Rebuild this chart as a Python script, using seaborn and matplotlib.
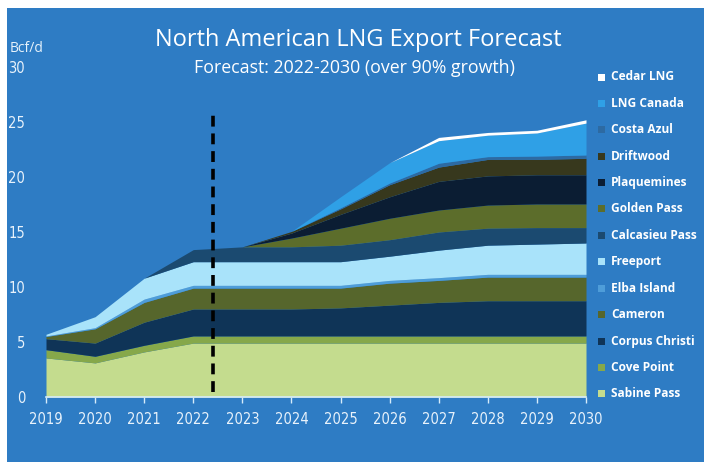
import matplotlib
matplotlib.use("Agg")
import matplotlib.pyplot as plt
from matplotlib.patches import Rectangle
import seaborn as sns
import numpy as np

years = [2019, 2020, 2021, 2022, 2023, 2024, 2025, 2026, 2027, 2028, 2029, 2030]

sabine_pass    = [3.55, 3.1, 4.1, 4.9, 4.9, 4.9, 4.9, 4.9, 4.9, 4.9, 4.9, 4.9]
cove_point     = [0.75, 0.6, 0.6, 0.65, 0.65, 0.65, 0.65, 0.65, 0.65, 0.65, 0.65, 0.65]
corpus_christi = [1.0, 1.2, 2.1, 2.45, 2.45, 2.45, 2.55, 2.8, 3.05, 3.2, 3.2, 3.2]
cameron        = [0.2, 1.3, 1.8, 1.9, 1.9, 1.9, 1.8, 2.0, 2.0, 2.15, 2.15, 2.15]
elba_island    = [0.05, 0.1, 0.3, 0.25, 0.25, 0.25, 0.25, 0.25, 0.25, 0.25, 0.25, 0.25]
freeport       = [0.15, 1.0, 1.9, 2.15, 2.15, 2.15, 2.15, 2.2, 2.5, 2.65, 2.75, 2.85]
calcasieu_pass = [0, 0, 0, 1.1, 1.35, 1.35, 1.5, 1.5, 1.65, 1.55, 1.5, 1.4]
golden_pass    = [0, 0, 0, 0, 0, 0.8, 1.55, 1.95, 2.0, 2.1, 2.15, 2.15]
plaquemines    = [0, 0, 0, 0, 0, 0.45, 1.25, 1.95, 2.6, 2.65, 2.65, 2.65]
driftwood      = [0, 0, 0, 0, 0, 0.15, 0.5, 1.1, 1.3, 1.5, 1.4, 1.5]
costa_azul     = [0, 0, 0, 0, 0, 0, 0.1, 0.15, 0.35, 0.25, 0.3, 0.3]
lng_canada     = [0, 0, 0, 0, 0, 0, 1.0, 1.85, 2.05, 1.95, 2.1, 2.9]
cedar_lng      = [0, 0, 0, 0, 0, 0, 0, 0, 0.3, 0.25, 0.25, 0.3]

series_names = ["Sabine Pass", "Cove Point", "Corpus Christi", "Cameron", "Elba Island",
                "Freeport", "Calcasieu Pass", "Golden Pass", "Plaquemines", "Driftwood",
                "Costa Azul", "LNG Canada", "Cedar LNG"]
series_values = [sabine_pass, cove_point, corpus_christi, cameron, elba_island, freeport,
                 calcasieu_pass, golden_pass, plaquemines, driftwood, costa_azul,
                 lng_canada, cedar_lng]

y_ticks = [0, 5, 10, 15, 20, 25, 30]
forecast_start = 2022.4

title = "North American LNG Export Forecast"
subtitle = "Forecast: 2022-2030 (over 90% growth)"
y_unit = "Bcf/d"

BG = "#2E7CC4"
palette = sns.color_palette(["#C4DC8E", "#86A84A", "#0F3457", "#56662C", "#4E9DD9",
                             "#A9E3FA", "#1B4A70", "#5C6D2B", "#0B1D33", "#37381D",
                             "#2D6AA2", "#2FA0E6", "#FFFFFF"])

sns.set_theme(style="white")
plt.rcParams["font.family"] = ["Open Sans", "DejaVu Sans"]

W, H = 704, 462
fig = plt.figure(figsize=(W / 100, H / 100), dpi=100, facecolor=BG)
# white strips along the top and left edges
fig.patches.append(Rectangle((0, 1 - 8 / H), 1, 8 / H, transform=fig.transFigure,
                             facecolor="white", edgecolor="none", zorder=-5))
fig.patches.append(Rectangle((0, 0), 7 / W, 1, transform=fig.transFigure,
                             facecolor="white", edgecolor="none", zorder=-5))

ax = fig.add_axes([46 / W, (H - 397) / H, 540 / W, 330 / H])
ax.set_facecolor("none")

ax.stackplot(years, *series_values, colors=palette, linewidth=0, zorder=2)

ax.plot([forecast_start, forecast_start], [0.5, 25.9], color="black", lw=2.6,
        dashes=(3.0, 1.9), zorder=5)

ax.set_xlim(years[0], years[-1])
ax.set_ylim(0, 30)
ax.set_xticks(years)
ax.set_yticks(y_ticks)
tick_kw = dict(family=["DejaVu Sans", "Open Sans"], stretch="condensed",
               fontsize=10.5, color="#E8F2FB")
ax.set_xticklabels([str(y) for y in years], **tick_kw)
ax.set_yticklabels([str(v) for v in y_ticks], **tick_kw)
ax.tick_params(axis="x", length=4, width=1, color="#D6ECFA", pad=7, bottom=True)
ax.tick_params(axis="y", length=0, pad=15)
for lab in ax.get_yticklabels():
    lab.set_horizontalalignment("right")
for s in ["top", "right", "left"]:
    ax.spines[s].set_visible(False)
ax.spines["bottom"].set_color("#D6ECFA")
ax.spines["bottom"].set_linewidth(1.2)
ax.grid(False)

fig.text(358 / W, 1 - 40 / H, title, ha="center", va="center", color="white", fontsize=17)
fig.text(354 / W, 1 - 68 / H, subtitle, ha="center", va="center", color="white", fontsize=12.8)
fig.text(10 / W, 1 - 48 / H, y_unit, ha="left", va="center", color="#E6F2FB", fontsize=10)

# legend (top entry = last series)
leg_top, leg_step = 77, 26.4
for i, (name, col) in enumerate(zip(series_names[::-1], list(palette)[::-1])):
    yc = leg_top + i * leg_step
    fig.patches.append(Rectangle((598 / W, 1 - (yc + 3.5) / H), 7 / W, 7 / H,
                                 transform=fig.transFigure, facecolor=col,
                                 edgecolor="none", zorder=3))
    fig.text(611 / W, 1 - yc / H, name, ha="left", va="center", color="white",
             fontsize=8.6, fontweight="bold")

fig.savefig("out.png", dpi=100, facecolor=fig.get_facecolor())
